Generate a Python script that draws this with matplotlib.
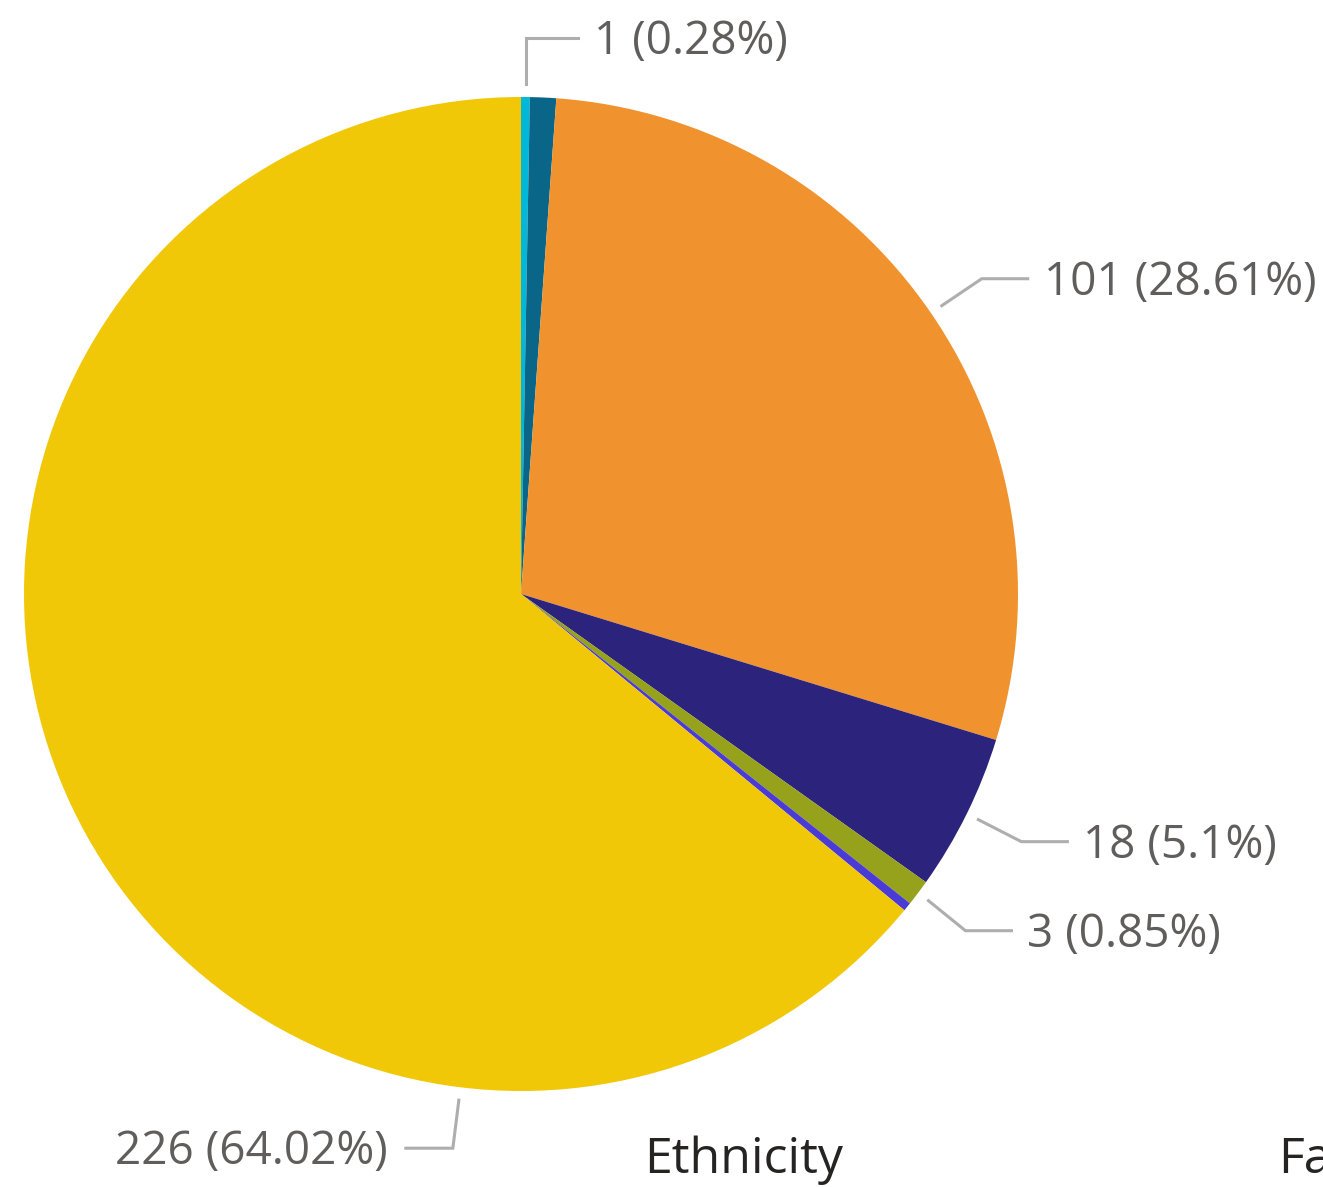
import numpy as np
import matplotlib.pyplot as plt

plt.rcParams['font.family'] = ['Open Sans', 'DejaVu Sans']

# slice values, clockwise from the top
values = [1, 3, 101, 18, 3, 1, 226]
colors = ['#01B8D9', '#0A6689', '#F0932E', '#2B237C', '#96A21B', '#4B3BD6', '#F0C808']
show_label = [True, False, True, True, True, False, True]
title = 'Ethnicity'
next_title = 'Fa'

W, H = 1323, 1187
fig = plt.figure(figsize=(W / 100, H / 100), dpi=100)
ax = fig.add_axes([0, 0, 1, 1])

cx, cy, R = 521, 594, 497
# y axis is flipped (pixel style), so visual clockwise = counterclock here
wedges, _ = ax.pie(values, colors=colors, startangle=-90, counterclock=True,
                   center=(cx, cy), radius=R, frame=True)
ax.set_xlim(0, W)
ax.set_ylim(H, 0)
ax.set_aspect('equal')
ax.axis('off')

total = sum(values)
# elbow offset, horizontal run
elbows = {0: (0, -46, 52), 2: (40, -27, 46), 3: (43, 22, 46),
          4: (37, 30, 46), 6: (-6, 48, -47)}
line_col = '#AEAEAE'
txt_col = '#605E5C'
for i, w in enumerate(wedges):
    if not show_label[i]:
        continue
    ang = (w.theta1 + w.theta2) / 2
    if i == 6:
        ang = 97  # big slice label sits at the bottom
    r0 = R + 13
    x0 = cx + r0 * np.cos(np.radians(ang))
    y0 = cy + r0 * np.sin(np.radians(ang))
    dx, dy, run = elbows[i]
    x1, y1 = x0 + dx, y0 + dy
    x2 = x1 + run
    ax.plot([x0, x1, x2], [y0, y1, y1], color=line_col, lw=2.2,
            solid_joinstyle='miter')
    pct = values[i] / total * 100
    s = f'{values[i]} ({pct:.2f}'.rstrip('0').rstrip('.') + '%)'
    if run > 0:
        ax.text(x2 + 16, y1 + 4, s, ha='left', va='center', fontsize=33, color=txt_col)
    else:
        ax.text(x2 - 18, y1 + 4, s, ha='right', va='center', fontsize=33, color=txt_col)

ax.text(744, 1160, title, ha='center', va='center', fontsize=36, color='#252423')
ax.text(1278, 1160, next_title, ha='left', va='center', fontsize=36, color='#252423')

fig.savefig('out.png', dpi=100)
